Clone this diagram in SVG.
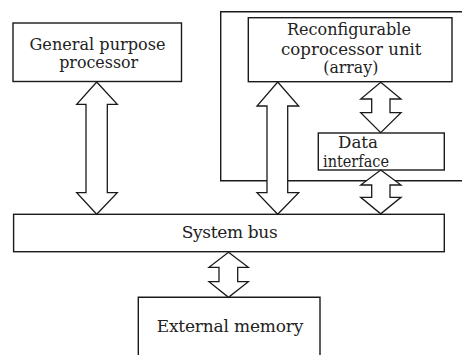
<svg xmlns="http://www.w3.org/2000/svg" width="462" height="355" viewBox="0 0 462 355">
<style>
.box{fill:#fff;stroke:#1a1a1a;stroke-width:1.4}
.frame{fill:none;stroke:#1a1a1a;stroke-width:1.4}
.arr{fill:#fff;stroke:#1a1a1a;stroke-width:1.3;stroke-linejoin:miter}
.t{font-family:'DejaVu Serif','Liberation Serif',serif;font-size:17px;fill:#222;text-anchor:middle}
</style>
<rect width="462" height="355" fill="#fff"/>
<g id="coprocessor-frame">
<path class="frame" d="M462 11.7 H220.7 V180.7 H462"/>
</g>
<g id="general-purpose-processor">
<rect class="box" x="13" y="23" width="168.5" height="58.5"/>
<text class="t" x="97.5" y="50" textLength="136" lengthAdjust="spacingAndGlyphs">General purpose</text>
<text class="t" x="98.7" y="68.3" textLength="79" lengthAdjust="spacingAndGlyphs">processor</text>
</g>
<g id="reconfigurable-coprocessor">
<rect class="box" x="248.3" y="17.7" width="203.7" height="64"/>
<text class="t" x="349" y="35.3" textLength="124" lengthAdjust="spacingAndGlyphs">Reconfigurable</text>
<text class="t" x="351.3" y="54.7" textLength="140.5" lengthAdjust="spacingAndGlyphs">coprocessor unit</text>
<text class="t" x="350.8" y="73" textLength="55" lengthAdjust="spacingAndGlyphs">(array)</text>
</g>
<g id="data-interface">
<rect class="box" x="318.3" y="133" width="126" height="37"/>
<text class="t" x="358" y="148.3" textLength="40" lengthAdjust="spacingAndGlyphs">Data</text>
<text class="t" x="356" y="167" textLength="66" lengthAdjust="spacingAndGlyphs">interface</text>
</g>
<g id="system-bus">
<rect class="box" x="13.6" y="214.3" width="430.7" height="37.4"/>
<text class="t" x="229.7" y="238.3" textLength="96" lengthAdjust="spacing">System bus</text>
</g>
<g id="external-memory">
<path class="box" d="M138.3 356 V297.3 H320 V356"/>
<text class="t" x="230" y="331.7" textLength="146.6" lengthAdjust="spacing">External memory</text>
</g>
<g id="connectors">
<path class="arr" d="M96.7 82 L117.3 104.3 H107.3 V192.7 H117.3 L96.7 214.3 L76.7 192.7 H86 V104.3 H76.7 Z"/>
<path class="arr" d="M277.7 82 L298.7 106 H287.7 V192.7 H298.7 L277.7 214.3 L257 192.7 H267 V106 H257 Z"/>
<path class="arr" d="M380.7 82.3 L401 99 H390 V112.7 H401 L380.7 132.7 L360.7 112.7 H371.7 V99 H360.7 Z"/>
<path class="arr" d="M380.7 170 L401 185 H390 V197.3 H401 L380.7 213.8 L360.7 197.3 H371.7 V185 H360.7 Z"/>
<path class="arr" d="M228.5 252.3 L248.3 267.3 H237.7 V281.7 H248.3 L228.5 297.3 L209 281.7 H219 V267.3 H209 Z"/>
</g>
</svg>
